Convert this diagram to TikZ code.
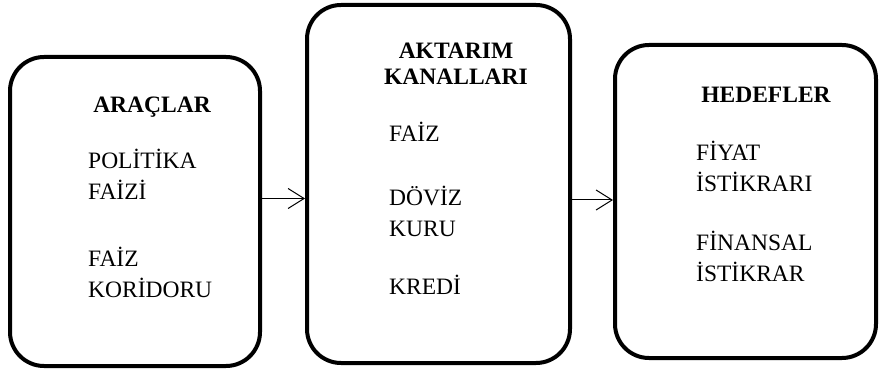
\documentclass[tikz,border=0pt]{standalone}
\usepackage{fontspec}
\setmainfont{Liberation Serif}
\usetikzlibrary{arrows.meta, positioning}

\tikzset{
  panel/.style={draw, line width=4pt, rounded corners=34pt, inner sep=0pt},
  headtxt/.style={font=\fontsize{23.5}{26}\selectfont\bfseries, align=center, inner sep=0pt, anchor=base},
  bodytxt/.style={font=\fontsize{23.5}{31}\selectfont, align=left, inner sep=0pt, anchor=base west},
  link/.style={line width=1pt, -{Straight Barb[length=16pt, width=20pt, line width=1pt]}}
}

\begin{document}
\begin{tikzpicture}[x=1pt, y=-1pt]
  \useasboundingbox (0,0) rectangle (881,371);

  % the three stages
  \node[panel, minimum width=250pt, minimum height=309pt] (araclar) at (135,211.5) {};
  \node[panel, minimum width=263pt, minimum height=358pt] (kanallar) at (438.5,184) {};
  \node[panel, minimum width=261pt, minimum height=313pt] (hedefler) at (745.5,201.5) {};

  % headings (base = last line)
  \node[headtxt] (h1) at (152,113) {ARAÇLAR};
  \node[headtxt] (h2) at (456,85) {AKTARIM\\KANALLARI};
  \node[headtxt] (h3) at (766,103) {HEDEFLER};

  % tools
  \node[bodytxt] (t1) at (88,200) {POLİTİKA\\FAİZİ};
  \node[bodytxt] (t2) at (88,298) {FAİZ\\KORİDORU};

  % channels
  \node[bodytxt] (c1) at (389,142) {FAİZ};
  \node[bodytxt] (c2) at (389,237) {DÖVİZ\\KURU};
  \node[bodytxt] (c3) at (389,295) {KREDİ};

  % goals
  \node[bodytxt] (g1) at (696,192) {FİYAT\\İSTİKRARI};
  \node[bodytxt] (g2) at (696,282) {FİNANSAL\\İSTİKRAR};

  % arrows between the stages
  \draw[link] ([yshift=13pt]araclar.east) coordinate (a1) -- (a1 -| kanallar.west);
  \draw[link] ([yshift=-16pt]kanallar.east) coordinate (a2) -- (a2 -| hedefler.west);
\end{tikzpicture}
\end{document}
